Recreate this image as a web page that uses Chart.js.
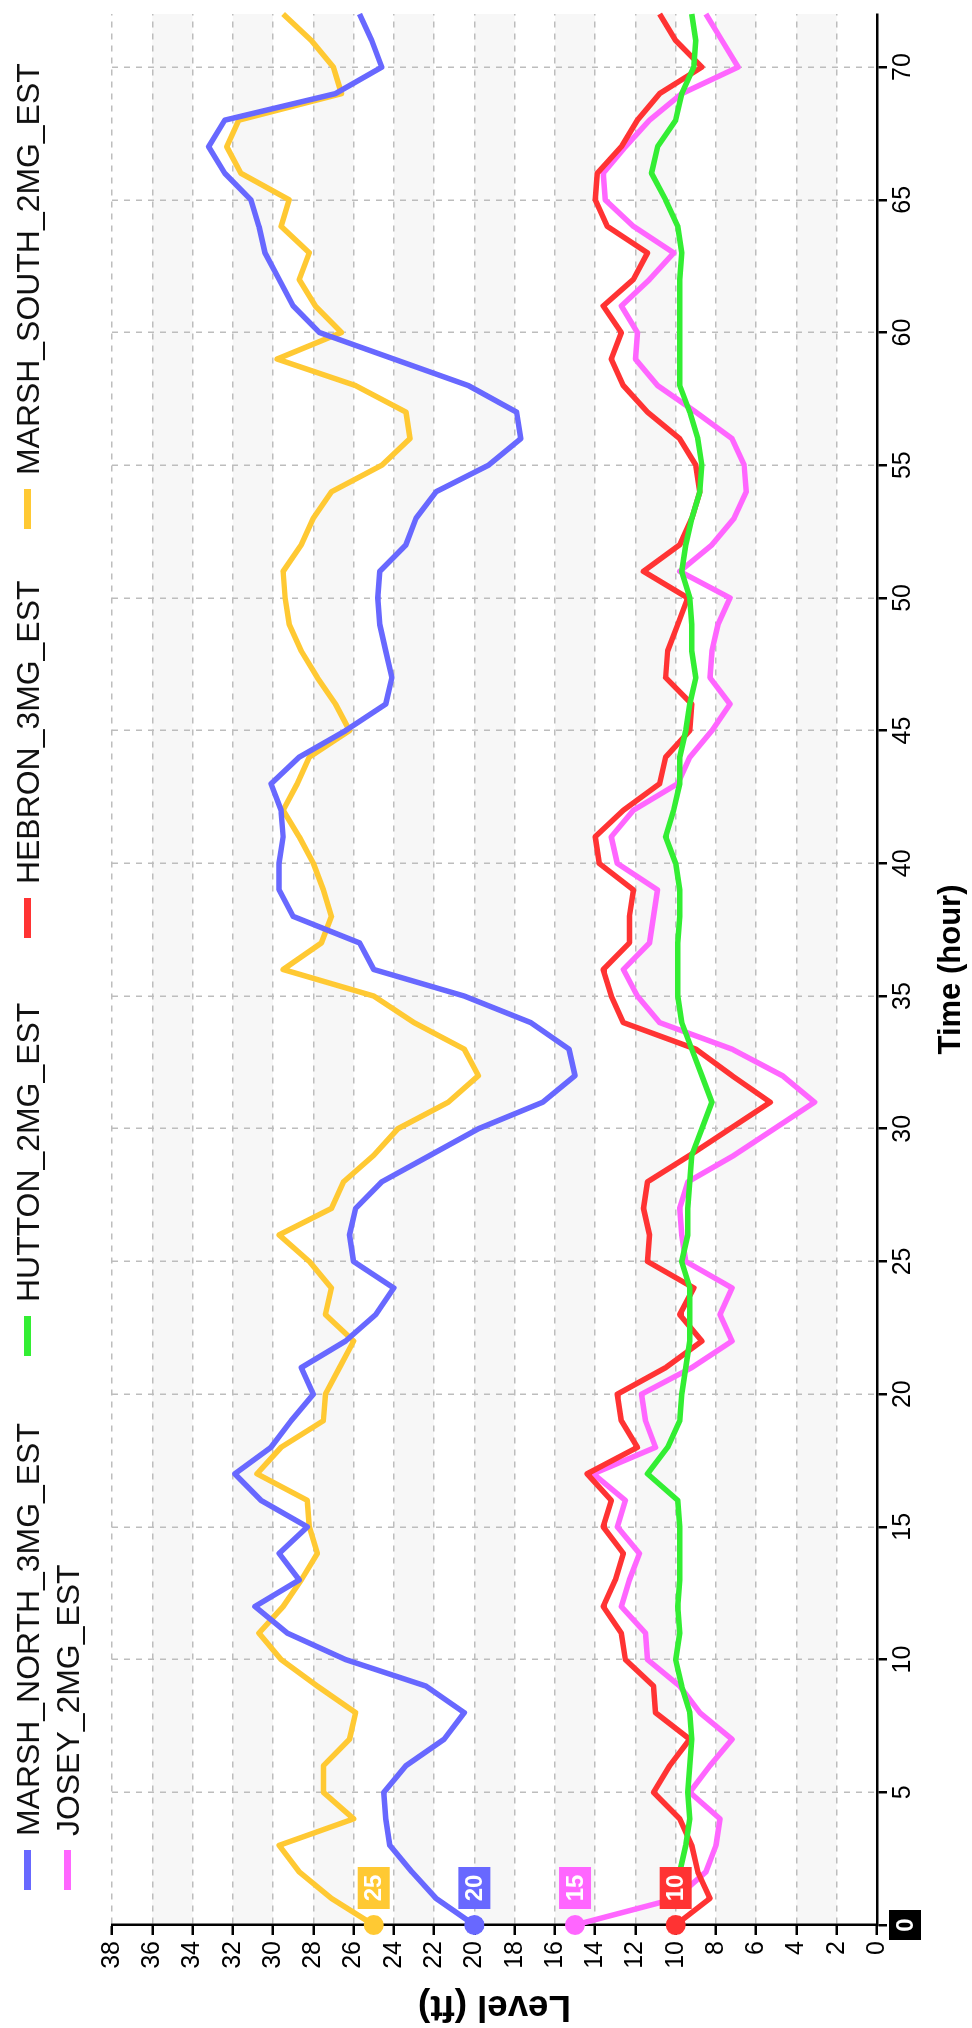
<!DOCTYPE html>
<html>
<head>
<meta charset="utf-8">
<script src="https://cdn.jsdelivr.net/npm/chart.js@4.4.1/dist/chart.umd.min.js"></script>
<style>
  html, body { margin: 0; padding: 0; background: #fff; overflow: hidden; }
  /* chart is laid out landscape, then turned a quarter left */
  #page { position: absolute; left: 0; top: 0; width: 2028px; height: 972px;
          transform-origin: 0 0; transform: translateY(2028px) rotate(-90deg); }
  #chart { position: absolute; left: 0; top: 0; }
  .lg { position: absolute; display: flex; align-items: center; white-space: nowrap; color: #111; }
  .lg i { display: inline-block; width: 40px; height: 7px; margin-right: 14px; }
</style>
</head>
<body>
<div id="page">
  <canvas id="chart" width="2028" height="972"></canvas>
  <div id="legend"></div>
</div>
<script>
// Time (hour)
const hours = [0, 1, 2, 3, 4, 5, 6, 7, 8, 9, 10, 11, 12, 13, 14, 15, 16, 17, 18, 19, 20, 21, 22, 23, 24,
  25, 26, 27, 28, 29, 30, 31, 32, 33, 34, 35, 36, 37, 38, 39, 40, 41, 42, 43, 44, 45, 46, 47, 48,
  49, 50, 51, 52, 53, 54, 55, 56, 57, 58, 59, 60, 61, 62, 63, 64, 65, 66, 67, 68, 69, 70, 71, 72];

// Level (ft)
const marshNorth = [20.0, 21.9, 23.1, 24.2, 24.4, 24.5, 23.4, 21.5, 20.5, 22.4, 26.4, 29.3, 30.9, 28.7, 29.7,
  28.3, 30.6, 31.9, 30.1, 29.1, 28.0, 28.6, 26.4, 24.9, 24.0, 26.0, 26.2, 25.9, 24.6, 22.2, 19.8, 16.6,
  15.0, 15.3, 17.2, 20.5, 25.0, 25.7, 29.0, 29.7, 29.7, 29.5, 29.6, 30.1, 28.7, 26.4, 24.4, 24.1, 24.4,
  24.7, 24.8, 24.7, 23.4, 22.9, 21.9, 19.3, 17.7, 17.9, 20.3, 24.0, 27.7, 29.0, 29.7, 30.4, 30.7, 31.1,
  32.4, 33.2, 32.4, 26.9, 24.6, 25.1, 25.7];
const hutton = [null, null, 9.8, 9.5, 9.3, 9.4, 9.3, 9.2, 9.3, 9.7, 10.0, 9.8, 9.9, 9.8, 9.8, 9.8, 9.9, 11.4,
  10.4, 9.8, 9.7, 9.5, 9.3, 9.3, 9.3, 9.7, 9.4, 9.4, 9.3, 9.2, 8.7, 8.2, 8.7, 9.2, 9.7, 9.9, 9.9, 9.9,
  9.8, 9.8, 10.0, 10.5, 10.1, 9.8, 9.8, 9.5, 9.3, 9.0, 9.2, 9.2, 9.3, 9.7, 9.5, 9.2, 8.8, 8.7, 8.9, 9.3,
  9.8, 9.8, 9.8, 9.8, 9.8, 9.7, 9.9, 10.5, 11.2, 10.9, 10.0, 9.7, 9.1, 9.0, 9.2];
const hebron = [10.0, 8.3, 8.9, 9.2, 9.8, 11.1, 10.3, 9.3, 11.0, 11.1, 12.5, 12.7, 13.6, 13.0, 12.6, 13.6,
  13.2, 14.4, 11.9, 12.7, 12.9, 10.5, 8.7, 9.8, 9.1, 11.4, 11.3, 11.6, 11.4, 9.3, 7.3, 5.3, 7.2, 9.0,
  12.6, 13.2, 13.6, 12.3, 12.3, 12.1, 13.8, 14.0, 12.6, 10.8, 10.5, 9.3, 9.2, 10.5, 10.4, 9.9, 9.4, 11.6,
  9.8, 9.2, 8.8, 9.0, 9.8, 11.4, 12.6, 13.2, 12.7, 13.6, 12.1, 11.4, 13.4, 14.0, 13.9, 12.7, 11.9, 10.8,
  8.7, 10.0, 10.8];
const marshSouth = [25.0, 27.1, 28.7, 29.7, 26.0, 27.5, 27.5, 26.2, 25.9, 27.8, 29.6, 30.7, 29.5, 28.6, 27.8,
  28.2, 28.3, 30.8, 29.6, 27.5, 27.4, 26.7, 26.0, 27.4, 27.1, 28.2, 29.7, 27.1, 26.5, 25.0, 23.8, 21.3,
  19.8, 20.5, 23.0, 25.0, 29.5, 27.6, 27.1, 27.5, 28.0, 28.7, 29.5, 28.8, 28.2, 26.2, 26.9, 27.8, 28.6,
  29.2, 29.4, 29.5, 28.6, 28.0, 27.1, 24.6, 23.2, 23.4, 25.9, 29.8, 26.6, 27.9, 28.7, 28.2, 29.6, 29.2,
  31.6, 32.3, 31.7, 26.6, 27.0, 28.1, 29.5];
const josey = [15.0, 10.0, 8.5, 8.0, 7.8, 9.3, 8.3, 7.2, 8.8, 9.8, 11.4, 11.5, 12.7, 12.3, 11.8, 12.9, 12.5,
  14.1, 11.0, 11.5, 11.7, 9.2, 7.2, 7.8, 7.2, 9.5, 9.7, 9.8, 9.4, 7.1, 5.1, 3.1, 4.7, 7.2, 10.8, 11.9,
  12.6, 11.3, 11.1, 10.9, 12.9, 13.2, 12.1, 9.9, 9.3, 8.2, 7.3, 8.3, 8.2, 7.9, 7.3, 9.8, 8.2, 7.1, 6.5,
  6.6, 7.2, 9.0, 10.9, 12.0, 11.9, 12.7, 11.3, 10.1, 12.1, 13.5, 13.6, 12.5, 11.3, 9.7, 6.9, 7.7, 8.5];

const seriesNames = ['MARSH_NORTH_3MG_EST', 'HUTTON_2MG_EST', 'HEBRON_3MG_EST', 'MARSH_SOUTH_2MG_EST', 'JOSEY_2MG_EST'];
const seriesValues = [marshNorth, hutton, hebron, marshSouth, josey];
const seriesColors = ['#6868ff', '#33ee33', '#ff3333', '#ffc933', '#ff66ff'];

// hovered sample shown with the cursor labels
const cursorIndex = 0;

const baseFamily = '"Liberation Sans", Arial, sans-serif';
const measureCtx = document.createElement('canvas').getContext('2d');

function hasFont(name) {
  const s = 'MARSH_SOUTH_2MG_EST';
  measureCtx.font = '40px monospace';
  const a = measureCtx.measureText(s).width;
  measureCtx.font = `40px "${name}", monospace`;
  return measureCtx.measureText(s).width !== a;
}

function fitSize(text, width, weight, family) {
  measureCtx.font = `${weight} 100px ${family}`;
  return 100 * width / measureCtx.measureText(text).width;
}

const legendFamily = hasFont('Liberation Sans Narrow') ? '"Liberation Sans Narrow", ' + baseFamily : baseFamily;
const legendSize = fitSize('MARSH_SOUTH_2MG_EST', 412, 'normal', legendFamily);
const levelTitleSize = fitSize('Level (ft)', 153, 'bold', baseFamily);
const timeTitleSize = fitSize('Time (hour)', 170, 'bold', baseFamily);

// legend: marker left edge and row, laid out like the original
const legendSpots = [[138, 0], [672, 0], [1090, 0], [1499, 0], [138, 1]];
const legendRowsY = [28, 68];

const legendEl = document.getElementById('legend');
seriesNames.forEach((name, i) => {
  const item = document.createElement('div');
  item.className = 'lg';
  item.style.left = legendSpots[i][0] + 'px';
  item.style.top = (legendRowsY[legendSpots[i][1]] - legendSize / 2) + 'px';
  item.style.height = legendSize + 'px';
  item.style.font = `${legendSize}px ${legendFamily}`;
  const mark = document.createElement('i');
  mark.style.background = seriesColors[i];
  item.appendChild(mark);
  item.appendChild(document.createTextNode(name));
  legendEl.appendChild(item);
});

const bandsAndCursor = {
  id: 'bandsAndCursor',
  beforeDraw(chart) {
    const { ctx, chartArea, scales: { y } } = chart;
    ctx.save();
    ctx.fillStyle = '#f7f7f7';
    y.ticks.forEach((t) => {
      if ((t.value / 2) % 2 === 1 && t.value < y.max) {
        const top = y.getPixelForValue(t.value + 2);
        const bottom = y.getPixelForValue(t.value);
        ctx.fillRect(chartArea.left, top, chartArea.right - chartArea.left, bottom - top);
      }
    });
    ctx.restore();
  },
  afterDraw(chart) {
    const { ctx, chartArea, scales: { x } } = chart;
    ctx.save();
    ctx.font = `bold 24px ${baseFamily}`;
    ctx.textAlign = 'center';
    ctx.textBaseline = 'middle';
    chart.data.datasets.forEach((ds, i) => {
      const v = ds.data[cursorIndex].y;
      if (v == null) return;
      const pt = chart.getDatasetMeta(i).data[cursorIndex];
      ctx.fillStyle = ds.borderColor;
      ctx.fillRect(pt.x + 16, pt.y - 16, 42, 32);
      ctx.fillStyle = '#fff';
      ctx.fillText(String(Math.round(v)), pt.x + 37, pt.y + 1);
    });
    const px = x.getPixelForValue(hours[cursorIndex]);
    ctx.fillStyle = '#000';
    ctx.fillRect(px - 15, chartArea.bottom + 12, 30, 32);
    ctx.fillStyle = '#fff';
    ctx.fillText(String(hours[cursorIndex]), px, chartArea.bottom + 29);
    ctx.restore();
  }
};

const tickFont = { family: baseFamily, size: 25 };

new Chart(document.getElementById('chart'), {
  type: 'line',
  data: {
    datasets: seriesNames.map((name, i) => ({
      label: name,
      data: hours.map((h, k) => ({ x: h, y: seriesValues[i][k] })),
      borderColor: seriesColors[i],
      backgroundColor: seriesColors[i],
      borderWidth: 5.5,
      borderJoinStyle: 'round',
      tension: 0,
      fill: false,
      clip: false,
      pointRadius: (c) => (c.dataIndex === cursorIndex ? 10 : 0),
      pointHoverRadius: 0,
      pointBorderWidth: 0,
      pointBackgroundColor: seriesColors[i],
    })),
  },
  options: {
    responsive: false,
    animation: false,
    devicePixelRatio: 1,
    events: [],
    layout: { padding: { top: 112, right: 14, left: 0, bottom: 0 } },
    plugins: { legend: { display: false }, tooltip: { enabled: false } },
    scales: {
      x: {
        type: 'linear',
        position: 'bottom',
        min: 0,
        max: 72,
        afterFit: (s) => { s.height = 95; },
        grid: { color: '#bdbdbd', lineWidth: 1.5, tickLength: 10, tickColor: '#000', tickWidth: 2.5, tickBorderDash: [] },
        border: { display: true, color: '#000', width: 2.5, dash: [6, 6] },
        ticks: { stepSize: 5, includeBounds: false, autoSkip: false, maxRotation: 0, padding: 1, color: '#000', font: tickFont },
        title: { display: true, text: 'Time (hour)', color: '#000', padding: { top: 0, bottom: 3 },
          font: { family: baseFamily, size: timeTitleSize, weight: 'bold', lineHeight: '36px' } },
      },
      y: {
        min: 0,
        max: 38,
        afterFit: (s) => { s.width = 103; },
        grid: { color: '#bdbdbd', lineWidth: 1.5, tickLength: 10, tickColor: '#000', tickWidth: 2.5, tickBorderDash: [] },
        border: { display: true, color: '#000', width: 2.5, dash: [6, 6] },
        ticks: { stepSize: 2, autoSkip: false, padding: 6, color: '#000', font: tickFont },
        title: { display: true, text: 'Level (ft)', color: '#000', padding: 0,
          font: { family: baseFamily, size: levelTitleSize, weight: 'bold', lineHeight: '44px' } },
      },
    },
  },
  plugins: [bandsAndCursor],
});
</script>
</body>
</html>
